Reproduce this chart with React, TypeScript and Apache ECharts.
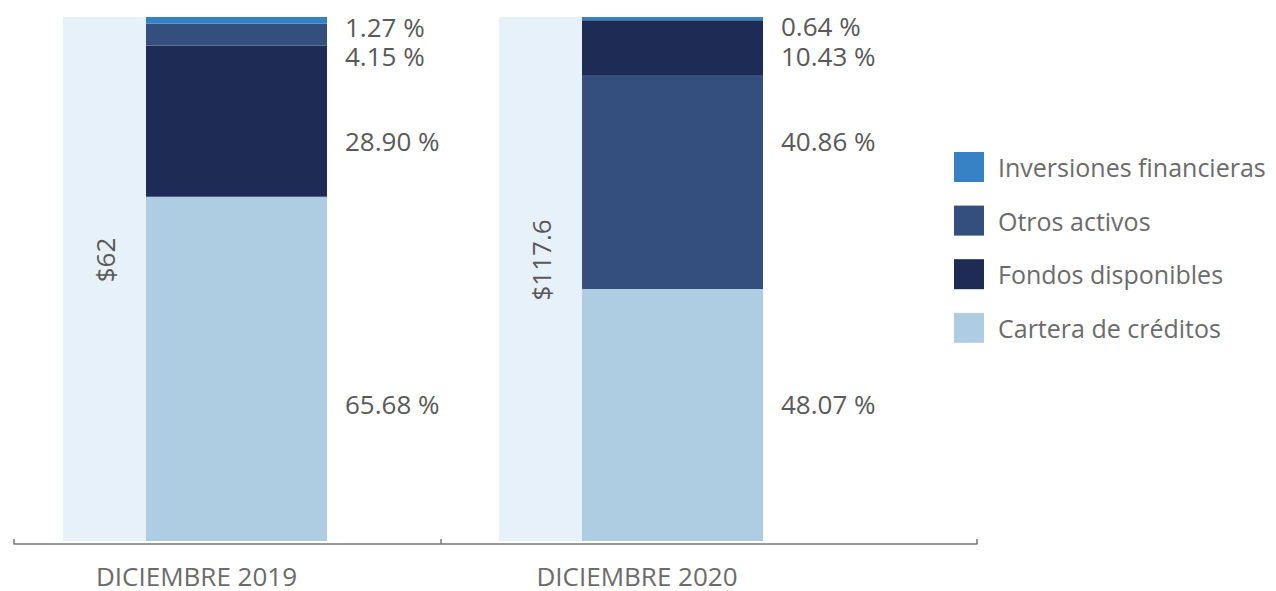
import React, { useEffect, useRef } from "react";
import * as echarts from "echarts";

// ---- Data ----
const categories = ["DICIEMBRE 2019", "DICIEMBRE 2020"];
const totals = [62, 117.6]; // total activos (millones)
const carteraCreditos = [65.68, 48.07];
const fondosDisponibles = [28.9, 10.43];
const otrosActivos = [4.15, 40.86];
const inversionesFinancieras = [1.27, 0.64];
const legendOrder = [
  "Inversiones financieras",
  "Otros activos",
  "Fondos disponibles",
  "Cartera de créditos",
];

// ---- Styles ----
const COLORS = {
  inversiones: "#3681c4",
  otros: "#344e7d",
  fondos: "#1e2b55",
  cartera: "#afcde2",
  pale: "#e7f1fa",
};
const FONT = "'Open Sans', Lato, sans-serif";
// vertical nudges of the percentage labels (px), per category
const LABEL_DY: Record<string, number[]> = {
  cartera: [35, -11],
  fondos: [20, 8],
  otros: [21.5, -41],
  inversiones: [6.2, 7.8],
};

export default function App() {
  const ref = useRef<HTMLDivElement>(null);

  useEffect(() => {
    if (!ref.current) return;
    const chart = echarts.init(ref.current, undefined, { renderer: "svg" });

    const full = categories.map(
      (_, i) =>
        carteraCreditos[i] + fondosDisponibles[i] + otrosActivos[i] + inversionesFinancieras[i]
    );

    const pctLabel = () => ({
      show: true,
      position: "right" as const,
      distance: 18,
      color: "#595959",
      fontFamily: FONT,
      fontSize: 26,
      lineHeight: 22,
      formatter: (p: any) => `${Number(p.value).toFixed(2)} %`,
    });

    const withOffsets = (vals: (number | string)[], key: string) =>
      vals.map((v, i) =>
        v === "-"
          ? "-"
          : { value: v, label: { offset: [0, LABEL_DY[key][i]] } }
      );

    // segments are stacked in descending order inside each column
    const fondosLow = fondosDisponibles.map((v, i) => (v >= otrosActivos[i] ? v : "-"));
    const fondosHigh = fondosDisponibles.map((v, i) => (v < otrosActivos[i] ? v : "-"));

    const stackBase = {
      type: "bar" as const,
      stack: "total",
      barWidth: 181,
      xAxisIndex: 0,
      yAxisIndex: 0,
    };

    chart.setOption({
      animation: false,
      grid: [
        { left: -23, width: 872, top: 17, bottom: 50, outerBoundsMode: "none", containLabel: false },
        { left: 14, width: 963, top: 17, bottom: 47, outerBoundsMode: "none", containLabel: false },
      ],
      legend: {
        data: legendOrder,
        orient: "vertical",
        left: 954,
        top: 152,
        padding: 0,
        itemWidth: 30,
        itemHeight: 30,
        itemGap: 23.6,
        icon: "rect",
        selectedMode: false,
        textStyle: {
          fontFamily: FONT,
          fontSize: 25,
          color: "#6b6b6b",
          padding: [0, 0, 0, 9],
        },
      },
      xAxis: [
        {
          type: "category",
          gridIndex: 0,
          data: categories,
          axisLine: { show: false },
          axisTick: { show: false },
          axisLabel: {
            margin: 25,
            fontFamily: FONT,
            fontSize: 26,
            color: "#6b6b6b",
            formatter: (v: string, i: number) => (i === 1 ? `{b|${v}}` : `{a|${v}}`),
            rich: {
              a: { fontFamily: FONT, fontSize: 26, lineHeight: 20, color: "#6b6b6b", padding: [0, 0, 0, 3] },
              b: { fontFamily: FONT, fontSize: 26, lineHeight: 20, color: "#6b6b6b", padding: [0, 0, 0, 12] },
            },
          },
        },
        {
          type: "value",
          gridIndex: 1,
          min: 0,
          max: 963,
          axisLine: { show: true, lineStyle: { color: "#777", width: 1.5 } },
          axisTick: {
            show: true,
            inside: true,
            length: 5,
            customValues: [0, 426.7, 963],
            lineStyle: { color: "#777", width: 1.5 },
          },
          axisLabel: { show: false },
          splitLine: { show: false },
        },
      ],
      yAxis: [
        { type: "value", gridIndex: 0, min: 0, max: 100, show: false },
        { type: "value", gridIndex: 1, min: 0, max: 100, show: false },
      ],
      series: [
        {
          name: "Total",
          type: "bar",
          barWidth: 83,
          barGap: "0%",
          xAxisIndex: 0,
          yAxisIndex: 0,
          itemStyle: { color: COLORS.pale },
          data: full.map((v) => v),
          label: {
            show: true,
            position: "inside",
            rotate: 90,
            offset: [19, 0],
            color: "#595959",
            fontFamily: FONT,
            fontSize: 26,
            formatter: (p: any) => `$${totals[p.dataIndex]}`,
          },
        },
        {
          ...stackBase,
          name: "Cartera de créditos",
          itemStyle: { color: COLORS.cartera },
          label: pctLabel(),
          data: withOffsets(carteraCreditos, "cartera"),
        },
        {
          ...stackBase,
          name: "Fondos disponibles",
          itemStyle: { color: COLORS.fondos },
          label: pctLabel(),
          data: withOffsets(fondosLow, "fondos"),
        },
        {
          ...stackBase,
          name: "Otros activos",
          itemStyle: { color: COLORS.otros },
          label: pctLabel(),
          data: withOffsets(otrosActivos, "otros"),
        },
        {
          ...stackBase,
          name: "Fondos disponibles",
          itemStyle: { color: COLORS.fondos },
          label: pctLabel(),
          data: withOffsets(fondosHigh, "fondos"),
        },
        {
          ...stackBase,
          name: "Inversiones financieras",
          itemStyle: { color: COLORS.inversiones },
          label: pctLabel(),
          data: withOffsets(inversionesFinancieras, "inversiones"),
        },
      ],
    });

    return () => chart.dispose();
  }, []);

  return (
    <div
      ref={ref}
      style={{ position: "fixed", left: 0, top: 0, width: 1276, height: 591, background: "#fff" }}
    />
  );
}
